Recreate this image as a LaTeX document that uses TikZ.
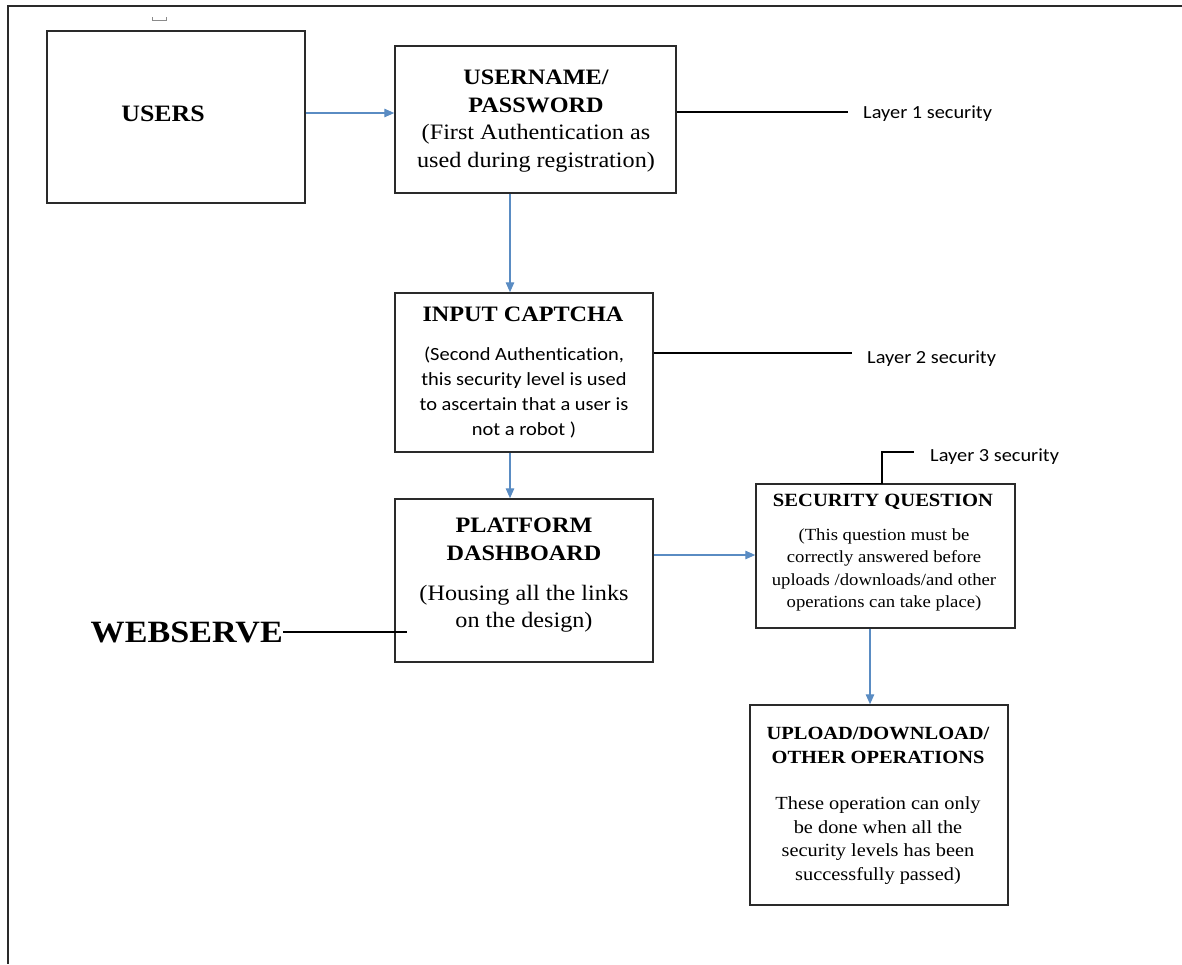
\documentclass[tikz,border=0pt]{standalone}
\usepackage{fontspec}
\setmainfont{Liberation Serif}[FakeStretch=1.1]
\newfontfamily\calfont{Carlito}[FakeStretch=1.1, Ligatures=NoCommon]
\usetikzlibrary{arrows.meta}
\definecolor{boxc}{HTML}{2A2A2A}
\definecolor{arrc}{HTML}{5A8CC3}
\definecolor{markc}{HTML}{8A8A8A}
\tikzset{
  box/.style={draw=boxc, line width=1.5pt, inner sep=0pt},
  arr/.style={draw=arrc, line width=1.4pt, -{Triangle[length=10pt,width=8.5pt]}},
  lay/.style={draw=black, line width=1.2pt},
  txt/.style={align=center, inner sep=0pt},
  laylbl/.style={anchor=west, inner sep=0pt, font=\calfont\fontsize{18.5}{22}\selectfont},
}
\begin{document}
\begin{tikzpicture}[x=1pt,y=-1pt]
\useasboundingbox (0,0) rectangle (1182,964);
% frame
\draw[draw=boxc, line width=1.5pt] (1182,6) -- (8,6) -- (8,964);
\draw[draw=markc, line width=0.9pt] (152,17) -- (152,20) -- (166,20) -- (166,17);

% boxes
\node[box, minimum width=258pt, minimum height=172pt] (users) at (176,117) {};
\node[box, minimum width=281pt, minimum height=147pt] (userpass) at (535.5,119.5) {};
\node[box, minimum width=258pt, minimum height=159pt] (captcha) at (524,372.5) {};
\node[box, minimum width=258pt, minimum height=163pt] (dash) at (524,580.5) {};
\node[box, minimum width=259pt, minimum height=144pt] (secq) at (885.5,556) {};
\node[box, minimum width=258pt, minimum height=200pt] (upload) at (879,805) {};

% texts
\node[txt, font=\bfseries\fontsize{23.5}{28}\selectfont] (tusers) at (163,113.5) {USERS};
\node[txt, font=\fontsize{22}{27.5}\selectfont] (tuserpass) at (536,121)
  {{\bfseries USERNAME/}\\{\bfseries PASSWORD}\\(First Authentication as\\used during registration)};
\node[txt, font=\bfseries\fontsize{22}{27.5}\selectfont] (tcaptcha) at (523,314.5) {INPUT CAPTCHA};
\node[txt, font=\calfont\fontsize{18.6}{25}\selectfont] (dcaptcha) at (524,392.5)
  {(Second Authentication,\\this security level is used\\to ascertain that a user is\\not a robot )};
\node[txt, font=\bfseries\fontsize{22}{28}\selectfont] (tdash) at (524,539.5) {PLATFORM\\DASHBOARD};
\node[txt, font=\fontsize{22}{27.5}\selectfont] (ddash) at (524,608.5) {(Housing all the links\\on the design)};
\node[txt, font=\bfseries\fontsize{18.7}{22}\selectfont] (tsecq) at (883,501.5) {SECURITY QUESTION};
\node[txt, font=\fontsize{17}{22.2}\selectfont] (dsecq) at (884,570)
  {(This question must be\\correctly answered before\\uploads /downloads/and other\\operations can take place)};
\node[txt, font=\bfseries\fontsize{18.6}{23.5}\selectfont] (tupload) at (878,745.5) {UPLOAD/DOWNLOAD/\\OTHER OPERATIONS};
\node[txt, font=\fontsize{18.5}{23.5}\selectfont] (dupload) at (878,840.5)
  {These operation can only\\be done when all the\\security levels has been\\successfully passed)};

\node[anchor=east, inner sep=0pt, font=\bfseries\fontsize{31}{36}\selectfont] (web) at (283,632) {WEBSERVE};

% layer labels
\node[laylbl] (l1) at (863,114) {Layer 1 security};
\node[laylbl] (l2) at (867,358.5) {Layer 2 security};
\node[laylbl] (l3) at (930,456.5) {Layer 3 security};

% arrows
\draw[arr] (users.east |- 0,113) -- (userpass.west |- 0,113);
\draw[arr] (userpass.south -| 510,0) -- (captcha.north -| 510,0);
\draw[arr] (captcha.south -| 510,0) -- (dash.north -| 510,0);
\draw[arr] (dash.east |- 0,555) -- (secq.west |- 0,555);
\draw[arr] (secq.south -| 870,0) -- (upload.north -| 870,0);

% layer connectors
\coordinate (l1end) at (848,112);
\coordinate (l2end) at (852,353);
\coordinate (l3end) at (914,452);
\coordinate (webend) at (407,632);
\draw[lay] (userpass.east |- l1end) -- (l1end);
\draw[lay] (captcha.east |- l2end) -- (l2end);
\draw[lay] (secq.north -| 840,0) -| (l3end -| 882,0) -- (l3end);
\draw[lay] (web.east) -- (webend);
\end{tikzpicture}
\end{document}
